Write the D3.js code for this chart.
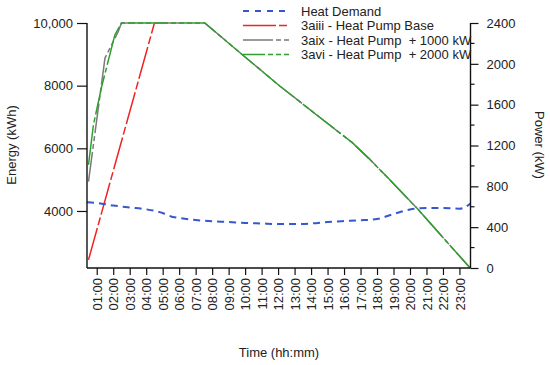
<!DOCTYPE html>
<html><head><meta charset="utf-8">
<script src="https://cdn.jsdelivr.net/npm/d3@7"></script>
<style>
body{margin:0;background:#fff;}
text{font-family:"Liberation Sans",Arial,sans-serif;font-size:13px;fill:#222;}
</style></head>
<body><svg id="c" width="550" height="365"></svg>
<script>
// ---- data ----
const hourTicks = d3.range(1, 24);
const hourLabels = hourTicks.map(h => String(h).padStart(2, "0") + ":00");
const energyTicks = [4000, 6000, 8000, 10000];
const energyTickLabels = ["4000", "6000", "8000", "10,000"];
const powerTicks = [0, 400, 800, 1200, 1600, 2000, 2400];
const powerTickLabels = ["0", "400", "800", "1200", "1600", "2000", "2400"];
const powerMinorTicks = [200, 600, 1000, 1400, 1800, 2200];

const timeHD = [0.41, 1, 2, 3, 4, 5, 5.6, 6, 7, 8, 9, 10, 11, 12, 13, 14, 15, 16, 17, 18, 19, 20, 21, 22, 23, 23.67];
const heatDemand = [644, 637, 612, 593, 575, 539, 500, 490, 470, 458, 451, 441, 436, 431, 431, 436, 451, 460, 467, 480, 529, 573, 588, 588, 581, 630];

const time3aiii = [0.5, 4.5];
const energy3aiii = [2440, 10000];

const time3aix = [0.5, 1.5, 2.3, 2.5, 7.55, 9.85, 12.1, 14.5, 16.5, 17.5, 18.6, 20.4, 23.65];
const energy3aix = [4935, 8880, 9720, 10000, 10000, 8980, 7990, 7000, 6180, 5680, 5090, 4100, 2180];

const time3avi = [0.5, 0.8, 1.3, 2.1, 2.5, 7.55, 9.85, 12.1, 14.5, 16.5, 17.5, 18.6, 20.4, 23.65];
const energy3avi = [5470, 6750, 7970, 9620, 10000, 10000, 8980, 7990, 7000, 6180, 5680, 5090, 4100, 2180];

const seriesNames = ["Heat Demand", "3aiii - Heat Pump Base", "3aix - Heat Pump  + 1000 kW", "3avi - Heat Pump  + 2000 kW"];

// ---- layout ----
const svg = d3.select("#c");
const L = 87, R = 470.5, T = 23, B = 268;
const x = d3.scaleLinear().domain([0.41, 23.67]).range([L, R]);
const yE = d3.scaleLinear().domain([2180, 10000]).range([B, T]);
const yP = d3.scaleLinear().domain([0, 2400]).range([B, T]);

svg.append("defs").append("clipPath").attr("id", "clip")
  .append("rect").attr("x", L).attr("y", T - 2).attr("width", R - L).attr("height", B - T + 2);

const styles = [
  {color: "#3558d0", dash: "7,5", width: 2},
  {color: "#ee2424", dash: "33,3,8,3", width: 1.5},
  {color: "#7a7a7a", dash: "30,3,5,3,5,3", width: 1.5},
  {color: "#2f9e2f", dash: "40,3,5,3", width: 1.5}
];

const plot = svg.append("g").attr("clip-path", "url(#clip)");
function drawLine(ts, vs, yS, st, curve) {
  const pts = ts.map((t, i) => [t, vs[i]]);
  plot.append("path").datum(pts)
    .attr("fill", "none").attr("stroke", st.color).attr("stroke-width", st.width)
    .attr("stroke-dasharray", st.dash)
    .attr("d", d3.line().x(d => x(d[0])).y(d => yS(d[1])).curve(curve || d3.curveLinear));
}
drawLine(time3aiii, energy3aiii, yE, styles[1]);
drawLine(time3aix, energy3aix, yE, styles[2]);
drawLine(time3avi, energy3avi, yE, styles[3]);
drawLine(timeHD, heatDemand, yP, styles[0], d3.curveMonotoneX);

// ---- axes ----
const axisColor = "#111";
// left
const gl = svg.append("g").attr("transform", `translate(${L},0)`)
  .call(d3.axisLeft(yE).tickValues(energyTicks).tickSize(10).tickPadding(4)
    .tickFormat((d, i) => energyTickLabels[i]));
gl.select(".domain").remove();
gl.append("line").attr("x1", 0).attr("x2", 0).attr("y1", T).attr("y2", B).attr("stroke", axisColor).attr("stroke-width", 1.4);
// right
const gr = svg.append("g").attr("transform", `translate(${R},0)`)
  .call(d3.axisRight(yP).tickValues(powerTicks).tickSize(8).tickPadding(8)
    .tickFormat((d, i) => powerTickLabels[i]));
gr.select(".domain").remove();
gr.append("line").attr("x1", 0).attr("x2", 0).attr("y1", T).attr("y2", B).attr("stroke", axisColor).attr("stroke-width", 1.4);
gr.selectAll(".minor").data(powerMinorTicks).enter().append("line")
  .attr("x1", 0).attr("x2", 4).attr("y1", d => yP(d)).attr("y2", d => yP(d))
  .attr("stroke", axisColor).attr("stroke-width", 1.2);
// bottom
const gb = svg.append("g").attr("transform", `translate(0,${B})`)
  .call(d3.axisBottom(x).tickValues(hourTicks).tickSize(7).tickFormat((d, i) => hourLabels[i]));
gb.select(".domain").remove();
gb.append("line").attr("x1", L).attr("x2", R).attr("y1", 0).attr("y2", 0).attr("stroke", axisColor).attr("stroke-width", 1.4);
gb.selectAll(".tick text")
  .attr("transform", "rotate(-90)").attr("text-anchor", "end")
  .attr("x", -10).attr("y", 0).attr("dy", "0.35em");

svg.selectAll(".tick line").attr("stroke", axisColor).attr("stroke-width", 1.2);
svg.selectAll(".tick text").style("font-size", "13px").attr("fill", "#222")
  .style("font-family", "Liberation Sans, Arial, sans-serif");

// titles
svg.append("text").attr("transform", "translate(16,145) rotate(-90)").attr("text-anchor", "middle").text("Energy (kWh)");
svg.append("text").attr("transform", "translate(535,145) rotate(90)").attr("text-anchor", "middle").text("Power (kW)");
svg.append("text").attr("x", 279).attr("y", 357).attr("text-anchor", "middle").text("Time (hh:mm)");

// legend
const legY = [11, 25.5, 40, 54.5];
const legDash = ["6,6", "33,3,8,3", "30,3,5,3,5,3", "22,3,5,3,5,3,5,3"];
const leg = svg.append("g");
seriesNames.forEach((name, i) => {
  leg.append("line").attr("x1", 243).attr("x2", 290).attr("y1", legY[i]).attr("y2", legY[i])
    .attr("stroke", styles[i].color).attr("stroke-width", styles[i].width).attr("stroke-dasharray", legDash[i]);
  leg.append("text").attr("x", 301).attr("y", legY[i]).attr("dy", "0.35em")
    .style("white-space", "pre").attr("xml:space", "preserve").text(name);
});
</script></body></html>
